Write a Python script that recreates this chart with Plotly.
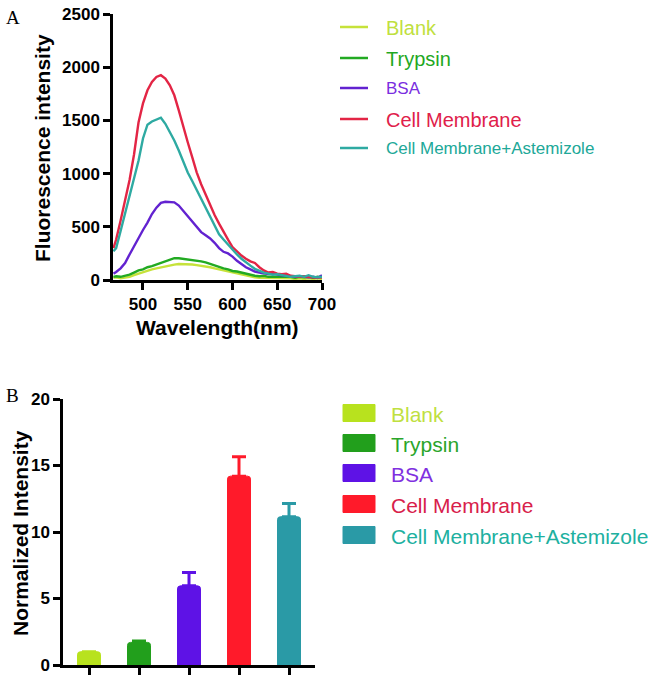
import plotly.graph_objects as go

W, H = 655, 677


def px(x):
    return x / W


def py(y):
    return 1 - y / H


# ---------------- Panel A data ----------------
wavelength = [467, 470, 475, 480, 485, 490, 495, 500, 505, 510, 515, 520, 525, 530,
              535, 540, 545, 550, 555, 560, 565, 570, 575, 580, 585, 590, 595, 600,
              605, 610, 615, 620, 625, 630, 635, 640, 645, 650, 655, 660, 665, 670,
              675, 680, 685, 690, 695, 700]

blank = [20, 25, 15, 20, 30, 45, 60, 75, 90, 100, 110, 120, 130, 140,
         145, 150, 150, 148, 145, 140, 135, 125, 120, 110, 100, 90, 80, 70,
         60, 50, 40, 30, 25, 20, 20, 15, 20, 15, 20, 15, 15, 10,
         15, 10, 15, 10, 15, 10]

trypsin = [30, 35, 30, 40, 50, 70, 90, 100, 120, 130, 145, 160, 175, 190,
           205, 205, 200, 195, 190, 180, 175, 165, 150, 140, 125, 110, 100, 85,
           80, 70, 60, 45, 40, 35, 40, 30, 30, 25, 30, 25, 30, 20,
           30, 25, 30, 20, 30, 25]

bsa = [60, 75, 110, 160, 240, 320, 400, 470, 540, 620, 680, 725, 735, 735,
       730, 700, 650, 600, 540, 490, 450, 420, 390, 350, 300, 265, 250, 220,
       180, 150, 120, 100, 80, 70, 60, 55, 60, 50, 45, 40, 35, 30,
       35, 30, 25, 30, 20, 45]

cell_membrane = [300, 380, 560, 740, 940, 1180, 1480, 1660, 1783, 1861, 1908, 1925, 1893, 1830,
                 1736, 1594, 1437, 1295, 1154, 1012, 900, 800, 700, 610, 530, 450, 380, 310,
                 265, 230, 200, 175, 160, 120, 90, 70, 75, 60, 55, 60, 40, 35,
                 30, 35, 30, 25, 20, 25]

cell_membrane_astemizole = [270, 300, 460, 620, 780, 940, 1120, 1330, 1460, 1490, 1505, 1525, 1468, 1390,
                            1311, 1217, 1110, 1010, 930, 845, 760, 670, 590, 510, 430, 380, 330, 280,
                            240, 200, 165, 135, 105, 85, 70, 60, 50, 55, 45, 40, 30, 35,
                            40, 30, 45, 30, 25, 30]

series_names = ["Blank", "Trypsin", "BSA", "Cell Membrane", "Cell Membrane+Astemizole"]
series_values = [blank, trypsin, bsa, cell_membrane, cell_membrane_astemizole]
line_colors = ["#c6e23a", "#22aa22", "#6222d0", "#e32545", "#2eaaa2"]
legend_a_text_colors = ["#bfe040", "#1fa81f", "#7a2ee0", "#e0204a", "#20a898"]
legend_a_sizes = [20, 20, 17, 20, 17]

x_ticks_a = [500, 550, 600, 650, 700]
y_ticks_a = [0, 500, 1000, 1500, 2000, 2500]

# ---------------- Panel B data ----------------
categories = ["Blank", "Trypsin", "BSA", "Cell Membrane", "Cell Membrane+Astemizole"]
normalized = [1.0, 1.7, 5.95, 14.2, 11.15]
errors = [0.0, 0.1, 1.0, 1.45, 1.0]
bar_colors = ["#b8e21e", "#229f1c", "#5e12e6", "#ff1a2a", "#2a9aa6"]
legend_b_text_colors = ["#bfe040", "#2aa52a", "#8030e0", "#d8204a", "#20b0a0"]
y_ticks_b = [0, 5, 10, 15, 20]

FONT = "Liberation Sans, Arial, Helvetica, sans-serif"
SERIF = "Liberation Serif, Times New Roman, serif"

fig = go.Figure()

for name, vals, col in zip(series_names, series_values, line_colors):
    fig.add_trace(go.Scatter(x=wavelength, y=vals, mode="lines", name=name,
                             line=dict(color=col, width=2.4), showlegend=False,
                             xaxis="x", yaxis="y"))

for cat, val, err, col in zip(categories, normalized, errors, bar_colors):
    fig.add_trace(go.Bar(x=[cat], y=[val], name=cat, width=0.46,
                         marker=dict(color=col, line=dict(color=col, width=1), cornerradius=3),
                         error_y=dict(type="data", symmetric=False, array=[err], arrayminus=[0],
                                      color=col, thickness=3, width=7, visible=True),
                         showlegend=False, xaxis="x2", yaxis="y2"))

axis_common = dict(showgrid=False, zeroline=False, showline=True, linecolor="black",
                   linewidth=2.5, ticks="outside", ticklen=7, tickwidth=2.5, tickcolor="black",
                   automargin=False,
                   tickfont=dict(family=FONT, size=17, color="black", weight="bold"))

fig.update_layout(
    width=W, height=H, margin=dict(l=0, r=0, t=0, b=0, pad=0), autosize=False,
    paper_bgcolor="white", plot_bgcolor="white", barmode="overlay",
    xaxis=dict(domain=[px(113), px(322)], range=[466.5, 700], tickvals=x_ticks_a,
               anchor="y", **axis_common),
    yaxis=dict(domain=[py(280), py(14)], range=[0, 2500], tickvals=y_ticks_a,
               anchor="x", **axis_common),
    xaxis2=dict(domain=[px(63), px(315)], range=[-0.52, 4.52], type="category",
                categoryorder="array", categoryarray=categories, showticklabels=False,
                anchor="y2", **axis_common),
    yaxis2=dict(domain=[py(665), py(399)], range=[0, 20], tickvals=y_ticks_b,
                anchor="x2", **axis_common),
)

ann = []
shapes = []

# Axis titles
ann.append(dict(text="Fluorescence intensity", x=px(43), y=py(148), xref="paper", yref="paper",
                textangle=-90, showarrow=False, xanchor="center", yanchor="middle",
                font=dict(family=FONT, size=21, color="black", weight="bold")))
ann.append(dict(text="Wavelength(nm)", x=px(218), y=py(327), xref="paper", yref="paper",
                showarrow=False, xanchor="center", yanchor="middle",
                font=dict(family=FONT, size=21, color="black", weight="bold")))
ann.append(dict(text="Normalized Intensity", x=px(20), y=py(533), xref="paper", yref="paper",
                textangle=-90, showarrow=False, xanchor="center", yanchor="middle",
                font=dict(family=FONT, size=21, color="black", weight="bold")))

# Panel labels
ann.append(dict(text="A", x=px(4), y=py(18), xref="paper", yref="paper", showarrow=False,
                xanchor="left", yanchor="middle", font=dict(family=SERIF, size=19, color="black")))
ann.append(dict(text="B", x=px(4), y=py(396), xref="paper", yref="paper", showarrow=False,
                xanchor="left", yanchor="middle", font=dict(family=SERIF, size=19, color="black")))

# Legend A (lines)
legA_y = [27, 58, 88, 119, 148]
for name, col, tcol, sz, yy in zip(series_names, line_colors, legend_a_text_colors,
                                   legend_a_sizes, legA_y):
    shapes.append(dict(type="line", xref="paper", yref="paper", x0=px(340), x1=px(368),
                       y0=py(yy), y1=py(yy), line=dict(color=col, width=2.5)))
    ann.append(dict(text=name, x=px(384), y=py(yy + 1), xref="paper", yref="paper",
                    showarrow=False, xanchor="left", yanchor="middle",
                    font=dict(family=FONT, size=sz, color=tcol)))

# Legend B (bars)
legB_y = [413, 443, 473, 504, 535]
for name, col, tcol, yy in zip(categories, bar_colors, legend_b_text_colors, legB_y):
    shapes.append(dict(type="rect", xref="paper", yref="paper", x0=px(343), x1=px(375),
                       y0=py(yy - 8.5), y1=py(yy + 8.5), fillcolor=col,
                       line=dict(color=col, width=1)))
    ann.append(dict(text=name, x=px(389), y=py(yy + 1), xref="paper", yref="paper",
                    showarrow=False, xanchor="left", yanchor="middle",
                    font=dict(family=FONT, size=21, color=tcol)))

fig.update_layout(annotations=ann, shapes=shapes)

fig.write_html("out.html", config={"displayModeBar": False},
               post_script="document.body.style.margin='0';document.body.style.overflow='hidden';")
